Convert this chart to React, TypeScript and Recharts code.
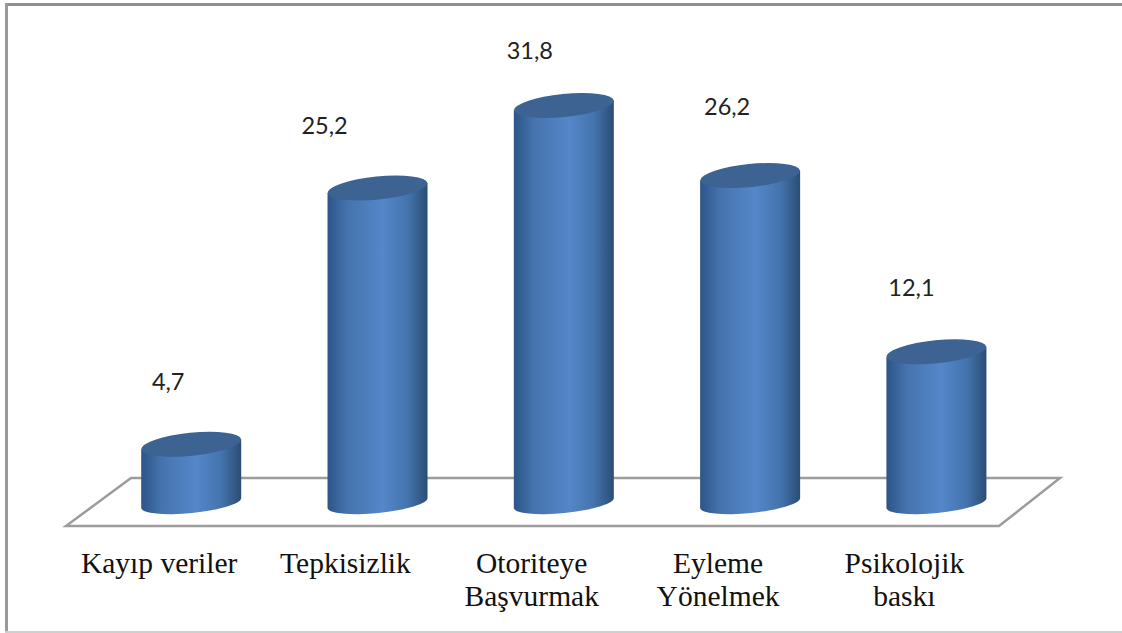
import { BarChart, Bar, XAxis, YAxis, LabelList, Customized } from 'recharts';

const categories = ['Kayıp veriler', 'Tepkisizlik', 'Otoriteye\nBaşvurmak', 'Eyleme\nYönelmek', 'Psikolojik\nbaskı'];
const percentages = [4.7, 25.2, 31.8, 26.2, 12.1];
const valueLabels = ['4,7', '25,2', '31,8', '26,2', '12,1'];
// hand-placed value labels: lift above the cylinder, shift left of its centre
const labelLift = [54, 54, 47, 61, 56];
const labelShift = [23, 53, 34, 23, 25];

const data = categories.map((name, i) => ({ name, value: percentages[i], label: valueLabels[i] }));

const WIDTH = 1122;
const HEIGHT = 633;
const TILT = -5.7;
const CAP_RY = 11.5;
const BASE_RY = 10;

// bar rectangle -> slanted cylinder
function Cylinder(props: any) {
  const { x, y, width, height } = props;
  const rx = width / 2;
  const cx = x + rx;
  const bottom = y + height;
  const dy = rx * Math.sin((TILT * Math.PI) / 180);
  const body = `M${x} ${y - dy} L${x} ${bottom - dy} A${rx} ${BASE_RY} ${TILT} 0 0 ${x + width} ${bottom + dy} L${x + width} ${y + dy} Z`;
  return (
    <g>
      <path d={body} fill="url(#cylinderFill)" />
      <ellipse cx={cx} cy={y} rx={rx} ry={CAP_RY} fill="#3c6392" transform={`rotate(${TILT} ${cx} ${y})`} />
    </g>
  );
}

function Floor() {
  return <polygon points="66,526 999,526 1060,478 131,478" fill="#fff" stroke="#9c9c9c" strokeWidth={2.5} />;
}

function CategoryTick(props: any) {
  const { x, y, payload } = props;
  const lines = String(payload.value).split('\n');
  return (
    <text x={x - 32} y={y} textAnchor="middle" fontFamily="Liberation Serif" fontSize={29.5} fill="#111">
      {lines.map((line: string, i: number) => (
        <tspan key={line} x={x - 32} y={y + 62 + i * 33}>{line}</tspan>
      ))}
    </text>
  );
}

function ValueLabel(props: any) {
  const { x, y, width, index } = props;
  return (
    <text x={x + width / 2 - labelShift[index]} y={y - labelLift[index]} textAnchor="middle" fontFamily="Lato" fontSize={23.5} fill="#222">
      {valueLabels[index]}
    </text>
  );
}

export default function App() {
  return (
    <div style={{ position: 'absolute', left: 0, top: 0, width: WIDTH, height: HEIGHT, background: '#fff', overflow: 'hidden' }}>
      {/* window-like border: heavy top and left, faint bottom */}
      <div style={{ position: 'absolute', left: 5, top: 3, right: 0, height: 3, background: '#8f8f8f' }} />
      <div style={{ position: 'absolute', left: 5, top: 3, bottom: 0, width: 3, background: '#9a9a9a' }} />
      <div style={{ position: 'absolute', left: 5, bottom: 0, right: 0, height: 2, background: '#cfcfcf' }} />
      <div style={{ position: 'absolute', left: 0, top: 0 }}>
        <BarChart width={WIDTH} height={HEIGHT} data={data} barCategoryGap="23.2%" margin={{ top: 65.5, right: 92.5, bottom: 0, left: 98 }}>
          <defs>
            <linearGradient id="cylinderFill" x1="0" y1="0" x2="1" y2="0">
              <stop offset="0" stopColor="#2c5588" />
              <stop offset="0.2" stopColor="#4573ad" />
              <stop offset="0.55" stopColor="#5487c9" />
              <stop offset="0.8" stopColor="#4474ae" />
              <stop offset="1" stopColor="#2b4d75" />
            </linearGradient>
          </defs>
          <Customized component={Floor} />
          <XAxis dataKey="name" axisLine={false} tickLine={false} interval={0} height={130} tick={<CategoryTick />} />
          <YAxis hide domain={[0, 35]} />
          <Bar dataKey="value" shape={<Cylinder />} isAnimationActive={false}>
            <LabelList dataKey="value" content={<ValueLabel />} />
          </Bar>
        </BarChart>
      </div>
    </div>
  );
}
